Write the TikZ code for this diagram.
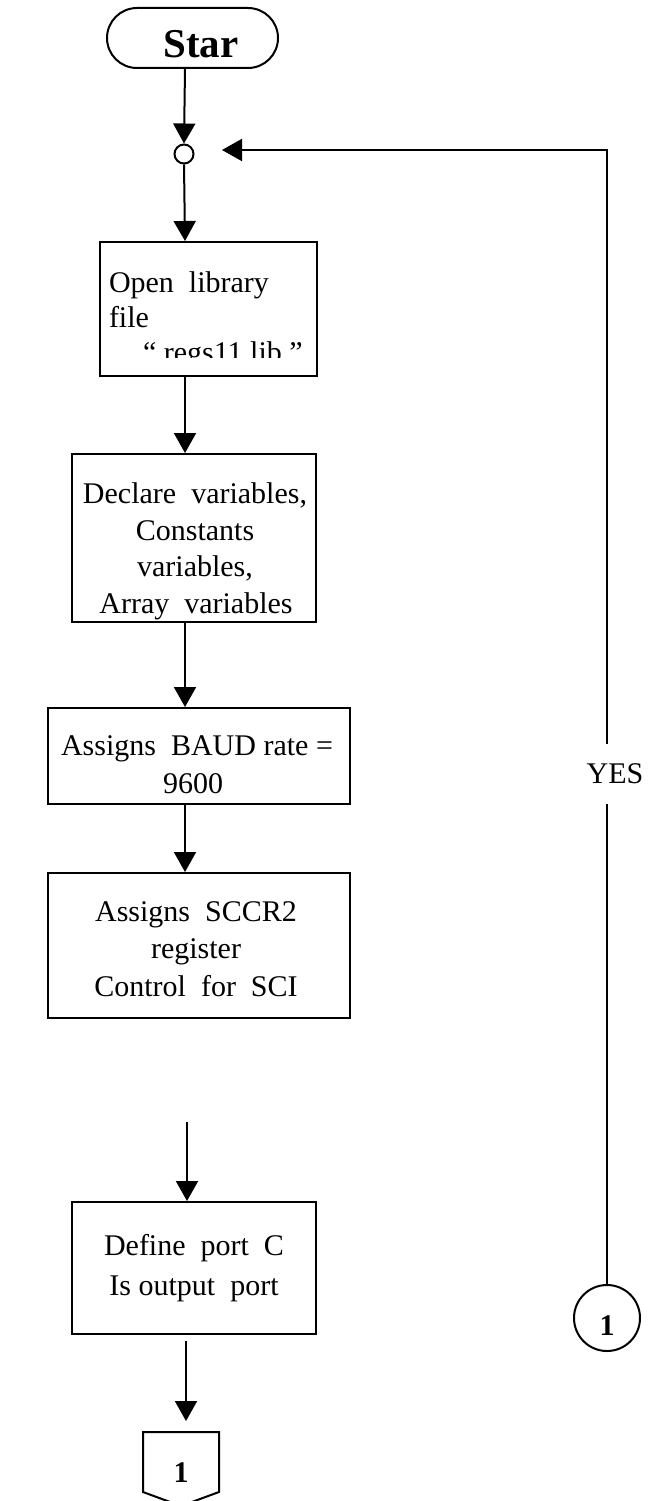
\documentclass[tikz,border=0pt]{standalone}
\usepackage{fontspec}
\setmainfont{Liberation Serif}
\usetikzlibrary{arrows.meta}
\begin{document}
\begin{tikzpicture}[x=1pt,y=-1pt,line width=2pt,
  txt/.style={font=\fontsize{30}{36}\selectfont,inner sep=0pt,anchor=base},
  btxt/.style={font=\bfseries\fontsize{30}{36}\selectfont,inner sep=0pt,anchor=base},
  box/.style={draw,line width=2pt,inner sep=0pt},
  arr/.style={-{Triangle[length=20pt,width=22pt]}}]
\useasboundingbox (0,0) rectangle (648,1501);

% vertical spines of the main flow
\coordinate (spine) at (185,0);
\coordinate (spineB) at (186,0);

% start terminal
\node[draw,rounded corners=30pt,minimum width=171pt,minimum height=60pt,inner sep=0pt] (start) at (192.5,38) {};
\node[font=\bfseries\fontsize{41}{41}\selectfont,inner sep=0pt,anchor=base] (startlbl) at (201,58) {Star};

% junction
\node[draw,circle,minimum size=19pt,inner sep=0pt] (jn) at (184,154) {};

% process boxes
\node[box,minimum width=217pt,minimum height=134pt] (b1) at (208.5,309) {};
\node[box,minimum width=244pt,minimum height=168pt] (b2) at (194,538) {};
\node[box,minimum width=302pt,minimum height=96pt] (b3) at (199,756) {};
\node[box,minimum width=302pt,minimum height=145pt] (b4) at (199,945.5) {};
\node[box,minimum width=244pt,minimum height=132pt] (b5) at (194,1268) {};

% box texts
\node[txt,anchor=base west] (t11) at (108,292) {Open\ \ library};
\node[txt,anchor=base west] (t12) at (108,327) {file};
\begin{scope}
  \clip (100,340) rectangle (317,357);
  \node[txt,anchor=base west] (t13) at (142,362) {“ regs11.lib ”};
\end{scope}

\node[txt] (t21) at (195,503) {Declare\ \ variables,};
\node[txt] (t22) at (195,540) {Constants};
\node[txt] (t23) at (195,576) {variables,};
\node[txt] (t24) at (196,613) {Array\ \ variables};

\node[txt] (t31) at (197,755) {Assigns\ \ BAUD rate =};
\node[txt] (t32) at (193,793) {9600};

\node[txt] (t41) at (196,921) {Assigns\ \ SCCR2};
\node[txt] (t42) at (196,958) {register};
\node[txt] (t43) at (196,996) {Control\ \ for\ \ SCI};

\node[txt] (t51) at (194,1255) {Define\ \ port\ \ C};
\node[txt] (t52) at (194,1295) {Is output\ \ port};

% off-page connector at the bottom
\coordinate (opTL) at (143,1432);
\coordinate (opTR) at (219,1432);
\coordinate (opBR) at (219,1492);
\coordinate (opBot) at (181,1506);
\coordinate (opBL) at (143,1492);
\draw[line join=miter] (opTL) -- (opTR) -- (opBR) -- (opBot) -- (opBL) -- cycle;
\node[btxt] (op1) at (181,1482) {1};

% on-page connector on the right
\node[draw,circle,minimum size=66pt,inner sep=0pt] (c1) at (607,1318) {};
\node[btxt] (c1lbl) at (607,1335) {1};

% loop label
\node[txt,anchor=center,minimum height=58pt] (yes) at (615,774) {YES};
\coordinate (loopEnd) at (222,150);

% main flow connectors
\draw[arr] (start.south -| spine) -- (jn.north);
\draw[arr] (jn.south) -- (b1.north -| spine);
\draw[arr] (b1.south -| spine) -- (b2.north -| spine);
\draw[arr] (b2.south -| spine) -- (b3.north -| spine);
\draw[arr] (b3.south -| spine) -- (b4.north -| spine);
\coordinate (gapTop) at (187,1122);
\draw[arr] (gapTop) -- (b5.north -| gapTop);
\draw[arr,shorten >=11pt] ([yshift=-6pt]b5.south -| spineB) -- (opTL -| spineB);

% return loop
\draw (c1.north) -- (yes.south -| c1.north);
\draw[arr] (yes.north -| c1.north) -- (loopEnd -| c1.north) -- (loopEnd);
\end{tikzpicture}
\end{document}
